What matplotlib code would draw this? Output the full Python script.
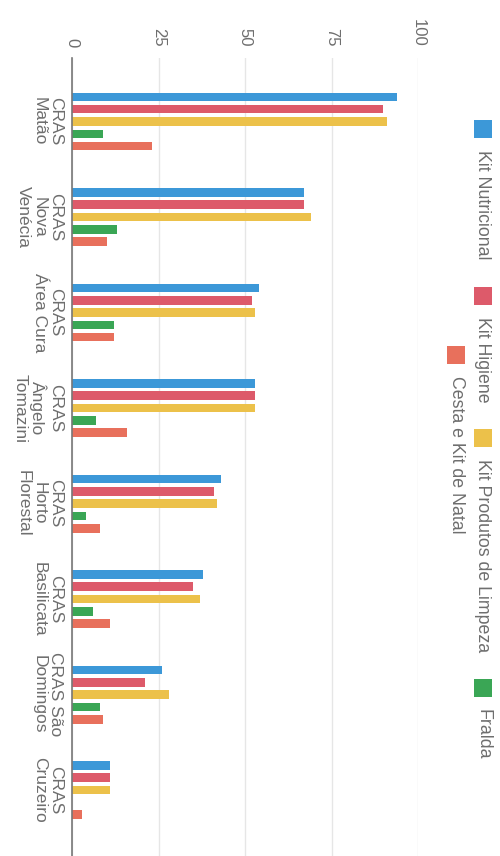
import matplotlib
matplotlib.use('Agg')
import matplotlib.pyplot as plt
import numpy as np
from matplotlib.patches import Rectangle

plt.rcParams['font.family'] = ['Liberation Sans', 'DejaVu Sans']

categories = ["CRAS\nMatão", "CRAS\nNova\nVenécia", "CRAS\nÁrea Cura",
              "CRAS\nÂngelo\nTomazini", "CRAS\nHorto\nFlorestal",
              "CRAS\nBasilicata", "CRAS São\nDomingos", "CRAS\nCruzeiro"]
series_names = ["Kit Nutricional", "Kit Higiene", "Kit Produtos de Limpeza",
                "Fralda", "Cesta e Kit de Natal"]
kit_nutricional = [94, 67, 54, 53, 43, 38, 26, 11]
kit_higiene = [90, 67, 52, 53, 41, 35, 21, 11]
kit_limpeza = [91, 69, 53, 53, 42, 37, 28, 11]
fralda = [9, 13, 12, 7, 4, 6, 8, 0]
cesta_natal = [23, 10, 12, 16, 8, 11, 9, 3]
value_ticks = [0, 25, 50, 75, 100]

series_values = [kit_nutricional, kit_higiene, kit_limpeza, fralda, cesta_natal]
colors = ['#3c98d8', '#dd5a6a', '#ecc14a', '#3aa655', '#e8705c']

W, H = 500, 856
fig = plt.figure(figsize=(W / 100, H / 100), dpi=100)
ax = fig.add_axes([72 / W, 0, (418 - 72) / W, 1 - 58 / H])

y = np.arange(len(categories))
pitch = 0.129
for j, (vals, c) in enumerate(zip(series_values, colors)):
    ax.barh(y + (j - 2) * pitch, vals, height=0.09, color=c, zorder=3)

ax.set_xlim(0, 100)
ax.set_ylim(7.69, -0.665)
ax.xaxis.tick_top()
ax.set_xticks(value_ticks)
ax.set_xticklabels([str(v) for v in value_ticks], rotation=-90, ha='center',
                   va='bottom', fontsize=12, color='#6e6e6e')
ax.set_yticks(y)
ax.set_yticklabels(categories, rotation=-90, ha='right', va='center',
                   multialignment='center', fontsize=12.5, color='#6e6e6e',
                   linespacing=1.1)
ax.tick_params(axis='x', length=0, pad=8)
ax.tick_params(axis='y', length=0, pad=6.5)
ax.grid(axis='x', color='#e6e6e6', linewidth=1, zorder=0)
ax.grid(axis='y', visible=False)
for s in ['top', 'right', 'bottom']:
    ax.spines[s].set_visible(False)
ax.spines['left'].set_color('#777777')
ax.spines['left'].set_linewidth(1.2)
ax.spines['left'].set_zorder(4)

# legend (rotated, drawn manually)
renderer = fig.canvas.get_renderer()
rows = [[0, 1, 2, 3], [4]]
row_x = [483, 456]
box, gap, padding, center = 18, 12, 27, 440
for row, xc in zip(rows, row_x):
    texts = []
    widths = []
    for idx in row:
        t = fig.text(0, 0, series_names[idx], rotation=-90, ha='center', va='top',
                     fontsize=12.8, color='#6e6e6e')
        bb = t.get_window_extent(renderer)
        texts.append(t)
        widths.append(bb.height)
    total = sum(box + gap + w for w in widths) + padding * (len(row) - 1)
    s = center - total / 2
    for idx, t, w in zip(row, texts, widths):
        fig.patches.append(Rectangle(((xc - 9) / W, 1 - (s + box) / H),
                                     box / W, box / H, transform=fig.transFigure,
                                     facecolor=colors[idx], edgecolor='none'))
        t.set_position((xc / W, 1 - (s + box + gap) / H))
        s += box + gap + w + padding

fig.savefig('out.png', dpi=100)
